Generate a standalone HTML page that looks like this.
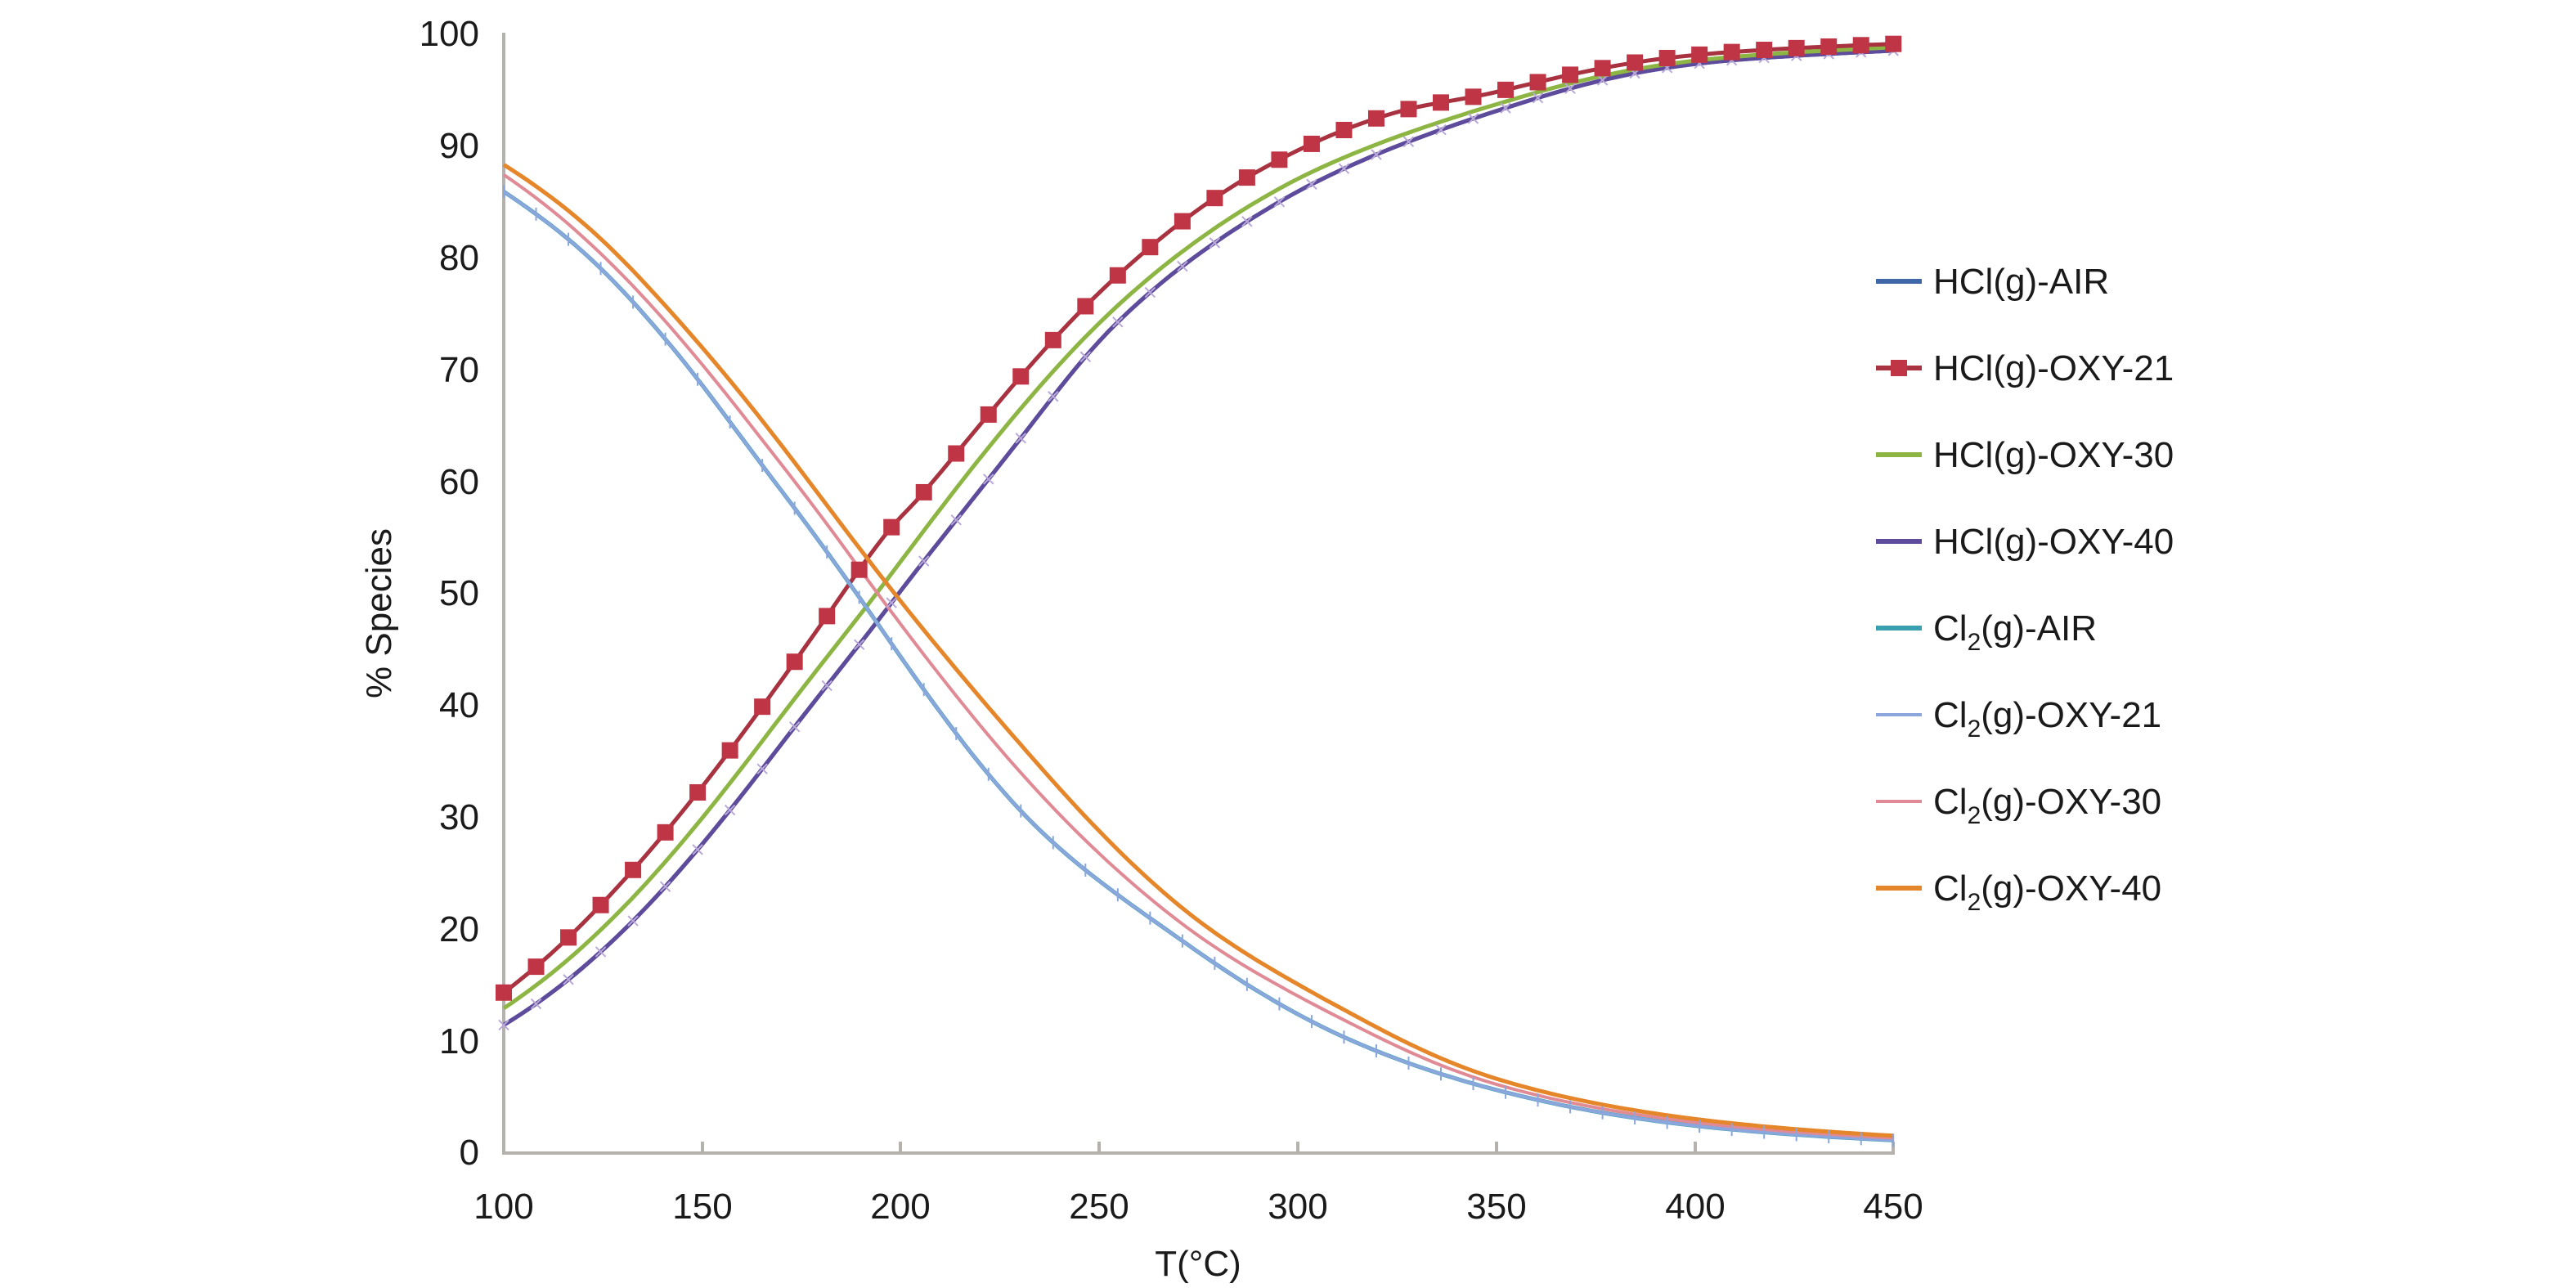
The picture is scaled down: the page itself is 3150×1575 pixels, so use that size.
<!DOCTYPE html>
<html><head><meta charset="utf-8"><style>
html,body{margin:0;padding:0;background:#fff;}
svg{display:block;font-family:"Liberation Sans",sans-serif;}
</style></head><body>
<svg id="s" width="3150" height="1575" viewBox="0 0 3150 1575" xmlns="http://www.w3.org/2000/svg">
<g font-size="44" fill="#1a1a1a" text-anchor="end">
<text x="586" y="56">100</text><text x="586" y="193">90</text><text x="586" y="330">80</text><text x="586" y="467">70</text><text x="586" y="604">60</text><text x="586" y="740">50</text><text x="586" y="877">40</text><text x="586" y="1014">30</text><text x="586" y="1151">20</text><text x="586" y="1288">10</text><text x="586" y="1424">0</text>
</g>
<g font-size="44" fill="#1a1a1a" text-anchor="middle">
<text x="616" y="1490">100</text><text x="859" y="1490">150</text><text x="1101" y="1490">200</text><text x="1344" y="1490">250</text><text x="1587" y="1490">300</text><text x="1830" y="1490">350</text><text x="2073" y="1490">400</text><text x="2315" y="1490">450</text>
<text x="1465" y="1560">T(°C)</text>
<text transform="translate(478,750) rotate(-90)">% Species</text>
</g>
<g stroke="#b5b1ad" stroke-width="4" fill="none">
<path d="M616 40 V1410 H2317"/>
<path d="M859 1410 v-14 M1101 1410 v-14 M1344 1410 v-14 M1587 1410 v-14 M1830 1410 v-14 M2073 1410 v-14 M2315 1410 v-14"/>
</g>
<g id="plot"></g>
<g font-size="44" fill="#1a1a1a">
<text x="2364" y="359">HCl(g)-AIR</text>
<text x="2364" y="465">HCl(g)-OXY-21</text>
<text x="2364" y="571">HCl(g)-OXY-30</text>
<text x="2364" y="677">HCl(g)-OXY-40</text>
<text x="2364" y="783">Cl<tspan font-size="30" dy="12">2</tspan><tspan dy="-12">(g)-AIR</tspan></text>
<text x="2364" y="889">Cl<tspan font-size="30" dy="12">2</tspan><tspan dy="-12">(g)-OXY-21</tspan></text>
<text x="2364" y="995">Cl<tspan font-size="30" dy="12">2</tspan><tspan dy="-12">(g)-OXY-30</tspan></text>
<text x="2364" y="1101">Cl<tspan font-size="30" dy="12">2</tspan><tspan dy="-12">(g)-OXY-40</tspan></text>
</g>
<g stroke-width="6">
<line x1="2294" y1="344" x2="2350" y2="344" stroke="#3f68a8"/>
<line x1="2294" y1="450" x2="2350" y2="450" stroke="#a8323f"/>
<rect x="2312" y="440" width="20" height="20" fill="#c03545" stroke="none"/>
<line x1="2294" y1="556" x2="2350" y2="556" stroke="#8db544"/>
<line x1="2294" y1="662" x2="2350" y2="662" stroke="#5e4b9b"/>
<line x1="2294" y1="768" x2="2350" y2="768" stroke="#3a9fb0"/>
<line x1="2294" y1="874" x2="2350" y2="874" stroke="#8aa6dc" stroke-width="4"/>
<line x1="2294" y1="980" x2="2350" y2="980" stroke="#e08a95" stroke-width="4"/>
<line x1="2294" y1="1086" x2="2350" y2="1086" stroke="#e6862a"/>
</g>
</svg>
<script>
(function(){
var X=function(t){return 616+4.855*(t-100);},Y=function(v){return 1408-13.68*v;};
var NS="http://www.w3.org/2000/svg",g=document.getElementById("plot");
function mk(kn){
 var xs=kn.map(function(k){return k[0];}),ys=kn.map(function(k){return Math.log(k[1]/(100-k[1]));});
 var n=xs.length,d=[],m=[];
 for(var i=0;i<n-1;i++)d.push((ys[i+1]-ys[i])/(xs[i+1]-xs[i]));
 m[0]=d[0];m[n-1]=d[n-2];for(i=1;i<n-1;i++)m[i]=(d[i-1]+d[i])/2;
 return function(t){var i=0;while(i<n-2&&t>xs[i+1])i++;var h=xs[i+1]-xs[i],u=(t-xs[i])/h;
  var h00=2*u*u*u-3*u*u+1,h10=u*u*u-2*u*u+u,h01=-2*u*u*u+3*u*u,h11=u*u*u-u*u;
  var L=h00*ys[i]+h10*h*m[i]+h01*ys[i+1]+h11*h*m[i+1];return 100/(1+Math.exp(-L));};
}
function path(f,col,w){var d="";for(var t=100;t<=450;t+=2){d+=(t==100?"M":"L")+X(t).toFixed(1)+" "+Y(f(t)).toFixed(1);}
var p=document.createElementNS(NS,"path");p.setAttribute("d",d);p.setAttribute("fill","none");p.setAttribute("stroke",col);p.setAttribute("stroke-width",w);p.setAttribute("stroke-linejoin","round");g.appendChild(p);}
var c21=mk([[100,85.8],[120.6,80.2],[141.2,72.4],[161.8,62.9],[182.4,53.1],[230.6,30.3],[271.8,18.6],[313,10],[350,5.5],[400,2.3],[450,1.0]]);
var c30=mk([[100,87.3],[141.2,74],[161.8,65.1],[182.4,55.6],[196,49],[230.6,33.7],[271.8,20.1],[313,11.5],[350,6],[400,2.6],[450,1.2]]);
var c40=mk([[100,88.2],[120.6,82.8],[141.2,75.4],[161.8,66.8],[192,52.8],[230.6,36.2],[271.8,21.5],[313,12.4],[350,6.5],[400,2.9],[450,1.4]]);
var h21=mk([[100,14.2],[132.4,25.1],[180.5,47.4],[196.5,55.3],[206,59],[253.7,78],[294,88.4],[326,93],[350,94.7],[400,98],[450,99]]);
var h30=mk([[100,12.8],[168.8,38.4],[196.5,51.1],[221.6,62.7],[253.7,75.3],[294,85.8],[350,93.6],[400,97.5],[450,98.7]]);
var h40=mk([[100,11.3],[168.8,35.9],[196.5,48.5],[227.9,62.7],[253.7,73.8],[294,84.6],[350,93],[400,97.2],[450,98.4]]);
path(h40,"#3f68a8",5);
path(h40,"#5e4b9b",5);
path(h30,"#8db544",5);
path(h21,"#a8323f",5);
path(c21,"#3a9fb0",5);
path(c21,"#8aa6dc",4);
path(c30,"#e08a95",4);
path(c40,"#e6862a",5);
var st=350/43;
for(var k=0;k<=43;k++){var t=100+k*st;
 var x=X(t),y;
 y=Y(h40(t));var m=document.createElementNS(NS,"path");m.setAttribute("d","M"+(x-6)+" "+(y-6)+"L"+(x+6)+" "+(y+6)+"M"+(x-6)+" "+(y+6)+"L"+(x+6)+" "+(y-6));m.setAttribute("stroke","#b9a8d8");m.setAttribute("stroke-width",2);g.appendChild(m);
 y=Y(c21(t));var p=document.createElementNS(NS,"path");p.setAttribute("d","M"+x+" "+(y-8)+"V"+(y+8));p.setAttribute("stroke","#8aa6dc");p.setAttribute("stroke-width",2);g.appendChild(p);
 var r=document.createElementNS(NS,"rect");r.setAttribute("x",x-10);r.setAttribute("y",Y(h21(t))-10);r.setAttribute("width",20);r.setAttribute("height",20);r.setAttribute("fill","#c03545");g.appendChild(r);
}
})();
</script>
</body></html>
